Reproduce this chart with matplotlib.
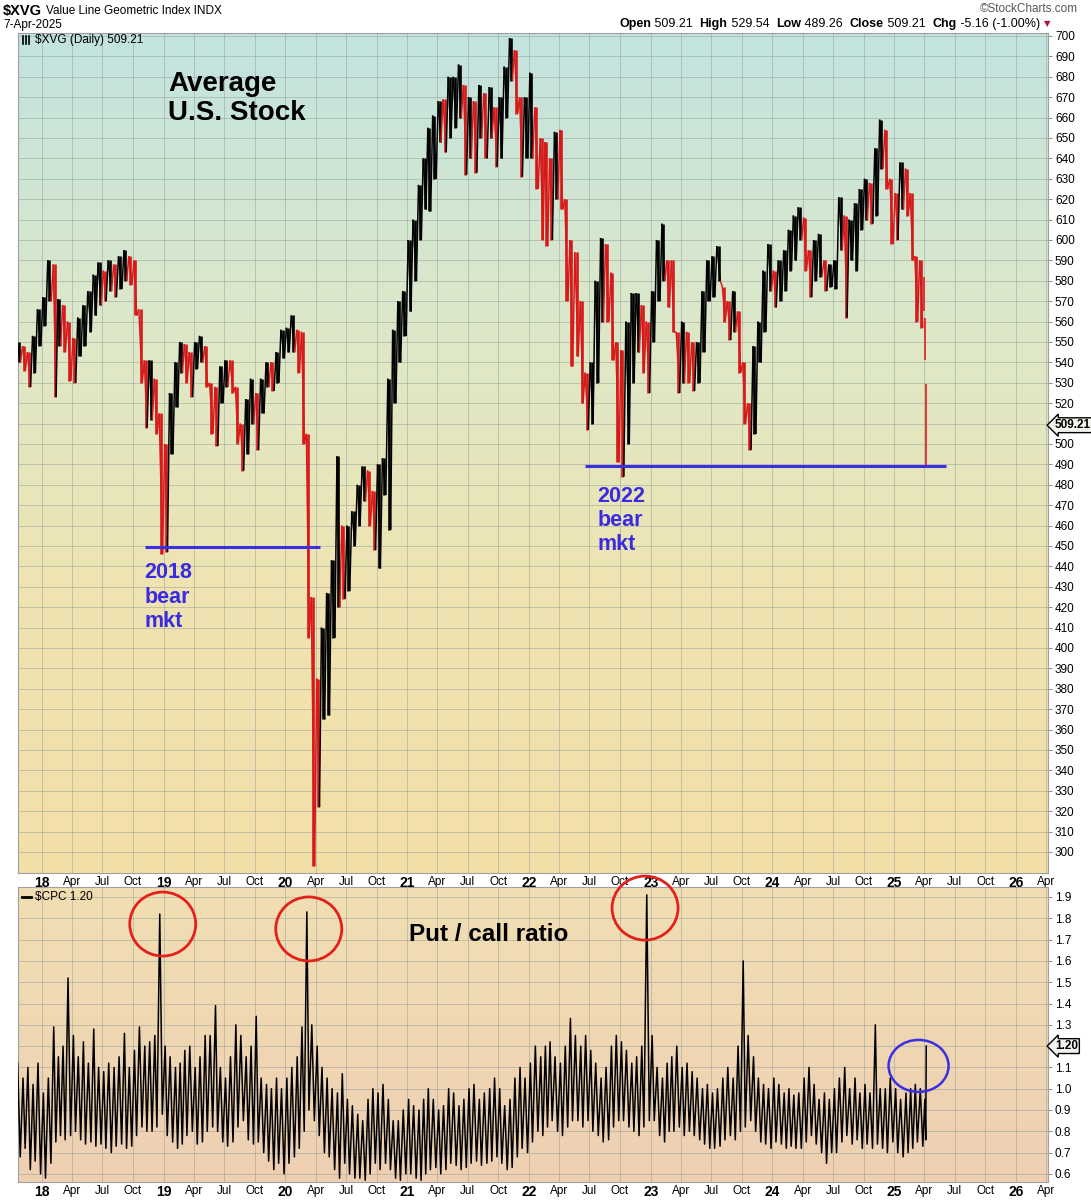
import numpy as np
import pandas as pd
import matplotlib
matplotlib.use('Agg')
import matplotlib.pyplot as plt
from matplotlib.patches import Ellipse
from matplotlib.lines import Line2D
from matplotlib.collections import LineCollection
from matplotlib.transforms import IdentityTransform
from matplotlib.colors import LinearSegmentedColormap

W, H = 1091, 1200

# ---------------- data ----------------
# $XVG semi-monthly high / low (periods start on the 1st and 15th), from 15-Oct-2017
xvg_high = [
    550, 548, 545, 553, 566,
    572, 590, 588, 571, 568, 560, 552, 562, 568, 575, 583, 589, 585, 590, 588, 592, 595, 592, 590, 566, 541, 541, 532, 515,
    500, 525, 540, 550, 549, 545, 550, 553, 548, 530, 528, 538, 541, 541, 528, 510, 522, 532, 525, 532, 540, 540, 545, 556,
    557, 563, 556, 555, 505, 425, 385, 410, 427, 443, 494, 460, 460, 467, 480, 489, 487, 477, 490, 493, 532, 556, 570, 575,
    600, 610, 627, 640, 655, 661, 668, 669, 680, 680, 686, 676, 670, 668, 676, 672, 675, 665, 670, 685, 699, 693, 670, 670,
    682, 665, 650, 648, 640, 653, 654, 620, 600, 594, 570, 535, 540, 580, 601, 598, 584, 550, 546, 560, 574, 574, 568, 560,
    575, 600, 608, 590, 590, 555, 560, 555, 550, 550, 575, 590, 592, 597, 577, 570, 575, 565, 540, 520, 548, 560, 585, 598,
    585, 590, 595, 605, 612, 616, 611, 595, 600, 603, 590, 588, 590, 621, 612, 610, 618, 625, 630, 628, 645, 659, 654, 630,
    623, 638, 635, 623, 592, 590,
]
xvg_low = [
    540, 536, 528, 535, 548,
    558, 570, 523, 548, 545, 531, 530, 543, 548, 555, 563, 568, 570, 575, 572, 576, 580, 578, 563, 530, 508, 512, 505, 446,
    447, 495, 518, 535, 530, 523, 537, 540, 528, 505, 499, 520, 528, 525, 500, 487, 495, 510, 497, 515, 528, 526, 530, 542,
    545, 545, 535, 500, 405, 293, 322, 365, 367, 405, 420, 424, 428, 450, 460, 472, 460, 448, 439, 475, 458, 520, 540, 553,
    565, 580, 600, 615, 614, 630, 648, 643, 650, 655, 660, 632, 640, 633, 650, 640, 650, 636, 640, 660, 678, 662, 631, 640,
    640, 625, 600, 597, 600, 620, 615, 570, 538, 543, 520, 507, 510, 530, 560, 560, 541, 491, 484, 500, 530, 545, 535, 525,
    550, 570, 580, 567, 555, 525, 530, 530, 526, 530, 545, 570, 572, 580, 560, 551, 555, 535, 510, 497, 505, 540, 555, 575,
    567, 570, 575, 585, 590, 600, 585, 572, 580, 582, 575, 577, 576, 595, 562, 590, 585, 605, 610, 608, 612, 635, 625, 598,
    600, 615, 612, 590, 560, 557,
]
xvg_period_start = '2017-10-15'
xvg_period_end = '2025-03-31'
# final daily bars (April 2025)
xvg_last_dates = ['2025-04-01', '2025-04-03', '2025-04-07']
xvg_last_high = [582, 562, 529.54]
xvg_last_low = [565, 541, 489.26]
xvg_close = 509.21

# $CPC put/call ratio, semi-monthly high / low, from 15-Oct-2017
pc_high = [
    1.12, 1.05, 1.10, 1.02, 1.12,
    0.98, 1.05, 1.29, 1.15, 1.20, 1.52, 1.25, 1.15, 1.22, 1.12, 1.28, 1.10, 1.08, 1.12, 1.10, 1.15, 1.26, 1.10, 1.18, 1.29, 1.20, 1.22, 1.25, 1.82,
    1.20, 1.15, 1.10, 1.12, 1.18, 1.20, 1.10, 1.15, 1.25, 1.25, 1.39, 1.10, 1.05, 1.15, 1.30, 1.25, 1.15, 1.20, 1.34, 1.05, 1.02, 1.00, 1.05, 1.00,
    1.05, 1.10, 1.15, 1.29, 1.83, 1.30, 1.20, 1.10, 1.05, 1.00, 0.98, 1.07, 0.95, 0.92, 0.88, 0.85, 0.95, 1.00, 0.98, 1.02, 0.95, 0.85, 0.85, 0.90,
    0.95, 0.92, 0.90, 0.95, 1.00, 0.95, 0.90, 0.92, 1.00, 0.98, 0.92, 0.95, 1.00, 1.02, 0.95, 0.98, 1.00, 1.05, 1.00, 0.92, 0.95, 1.05, 1.10, 1.05,
    1.12, 1.20, 1.15, 1.20, 1.22, 1.15, 1.12, 1.20, 1.33, 1.25, 1.20, 1.25, 1.18, 1.12, 1.05, 1.10, 1.20, 1.25, 1.22, 1.18, 1.12, 1.15, 1.20, 1.91,
    1.25, 1.10, 1.05, 1.12, 1.15, 1.20, 1.10, 1.12, 1.08, 1.05, 1.00, 1.02, 0.98, 1.00, 1.05, 1.10, 1.05, 1.20, 1.60, 1.25, 1.15, 1.05, 1.02, 1.00,
    1.05, 1.02, 0.98, 1.00, 0.97, 0.98, 1.05, 1.10, 1.02, 0.95, 0.98, 0.95, 1.00, 1.05, 1.10, 1.00, 1.05, 0.98, 1.02, 0.98, 1.30, 1.00, 1.00, 1.05,
    1.00, 0.95, 0.98, 1.00, 1.02, 1.00, 0.95,
]
pc_low = [
    0.68, 0.72, 0.62, 0.66, 0.60,
    0.58, 0.65, 0.75, 0.78, 0.76, 0.78, 0.80, 0.76, 0.74, 0.75, 0.73, 0.74, 0.72, 0.70, 0.73, 0.74, 0.72, 0.73, 0.78, 0.82, 0.80, 0.80, 0.82, 0.88,
    0.78, 0.75, 0.72, 0.74, 0.78, 0.80, 0.74, 0.75, 0.80, 0.82, 0.80, 0.75, 0.73, 0.75, 0.82, 0.85, 0.76, 0.74, 0.75, 0.70, 0.66, 0.62, 0.65, 0.60,
    0.65, 0.68, 0.72, 0.80, 0.90, 0.85, 0.78, 0.70, 0.68, 0.62, 0.58, 0.65, 0.60, 0.58, 0.58, 0.57, 0.60, 0.65, 0.62, 0.65, 0.62, 0.58, 0.57, 0.60,
    0.60, 0.58, 0.57, 0.60, 0.62, 0.63, 0.60, 0.62, 0.65, 0.64, 0.62, 0.63, 0.65, 0.66, 0.64, 0.65, 0.66, 0.68, 0.65, 0.62, 0.63, 0.68, 0.72, 0.70,
    0.75, 0.80, 0.78, 0.82, 0.85, 0.80, 0.78, 0.82, 0.85, 0.85, 0.82, 0.85, 0.80, 0.78, 0.75, 0.76, 0.82, 0.85, 0.85, 0.82, 0.80, 0.78, 0.82, 0.85,
    0.85, 0.78, 0.75, 0.80, 0.80, 0.82, 0.78, 0.80, 0.78, 0.76, 0.74, 0.72, 0.72, 0.73, 0.76, 0.78, 0.76, 0.80, 0.82, 0.85, 0.80, 0.75, 0.74, 0.72,
    0.75, 0.74, 0.72, 0.73, 0.72, 0.72, 0.75, 0.78, 0.74, 0.70, 0.65, 0.70, 0.70, 0.75, 0.78, 0.74, 0.76, 0.72, 0.74, 0.72, 0.74, 0.72, 0.70, 0.75,
    0.70, 0.68, 0.70, 0.72, 0.75, 0.73, 0.76,
]
pc_period_start = '2017-10-15'
pc_last_date = '2025-04-07'
pc_last = 1.20

# annotations
support_2018 = ('2018-11-05', '2020-04-14', 449.5)
support_2022 = ('2022-06-17', '2025-06-05', 489.4)
red_circles = [('2018-12-29', 1.773), ('2020-03-11', 1.750), ('2022-12-15', 1.848)]
blue_circle = ('2025-03-15', 1.107)

# ---------------- helpers ----------------
def yfrac(d):
    d = pd.Timestamp(d)
    start = pd.Timestamp(d.year, 1, 1)
    days = 366 if d.is_leap_year else 365
    return d.year + (d - start).days / days

XMIN, XMAX = 2017.803, 2026.263
P_TOP, P_BOT = 700 + 3 / 2.04, 700 - 837 / 2.04
PC_TOP, PC_BOT = 1.9 + 10 / 213.0, 1.9 - 285 / 213.0

plt.rcParams['font.family'] = ['Liberation Sans Narrow', 'Liberation Sans', 'DejaVu Sans']
BOLDFAM = ['Liberation Sans', 'DejaVu Sans']

fig = plt.figure(figsize=(W / 100, H / 100), dpi=100)
fig.patch.set_facecolor('white')

def fx(px):
    return px / W

def fy(py):
    return 1 - py / H

ax1 = fig.add_axes([fx(18), fy(873), fx(1048) - fx(18), fy(33) - fy(873)])
ax2 = fig.add_axes([fx(18), fy(1182), fx(1048) - fx(18), fy(887) - fy(1182)])

# gradients
grad = np.linspace(0, 1, 256).reshape(-1, 1)
top_cmap = LinearSegmentedColormap.from_list(
    'top', [(0, '#f3dfa8'), (0.35, '#eee4b2'), (0.65, '#dde8c9'), (1, '#c2e3df')])
bot_cmap = LinearSegmentedColormap.from_list('bot', [(0, '#eecfb3'), (1, '#f1dfb2')])
ax1.imshow(grad, cmap=top_cmap, extent=[0, 1, 0, 1], transform=ax1.transAxes,
           aspect='auto', origin='lower', zorder=0)
ax2.imshow(grad, cmap=bot_cmap, extent=[0, 1, 0, 1], transform=ax2.transAxes,
           aspect='auto', origin='lower', zorder=0)

# ---------------- price bars ----------------
RED = '#d61a1a'
hi = np.array(xvg_high, float)
lo = np.array(xvg_low, float)
starts = pd.date_range(xvg_period_start, periods=len(hi), freq='SMS')
t_edges = np.array([yfrac(s) for s in starts] + [yfrac(xvg_period_end)])
dt = np.diff(t_edges)
tc = (t_edges[:-1] + t_edges[1:]) / 2
mid = (hi + lo) / 2
cols = ['black'] + [RED if mid[i] < mid[i - 1] else 'black' for i in range(1, len(mid))]
# range bars
ax1.vlines(tc, lo, hi, colors=cols, lw=1.9, zorder=3)
# jagged connection high -> low -> next high, giving the dense bar texture
segs, scol = [], []
for i in range(len(hi)):
    a = (t_edges[i] + 0.2 * dt[i], hi[i])
    b = (t_edges[i] + 0.8 * dt[i], lo[i])
    segs.append([a, b]); scol.append(cols[i])
    if i + 1 < len(hi):
        c = (t_edges[i + 1] + 0.2 * dt[i + 1], hi[i + 1])
        segs.append([b, c]); scol.append(cols[i + 1])
ax1.add_collection(LineCollection(segs, colors=scol, linewidths=1.1, zorder=3))
lt = [yfrac(d) for d in xvg_last_dates]
ax1.vlines(lt, xvg_last_low, xvg_last_high, colors='#e02a2a', lw=1.3, zorder=3)

# support lines
for s0, s1, lev in (support_2018, support_2022):
    ax1.hlines(lev, yfrac(s0), yfrac(s1), color='#3b2fe3', lw=2.2, zorder=4)

# ---------------- put/call ----------------
ph = np.array(pc_high, float)
pl = np.array(pc_low, float)
pstarts = pd.date_range(pc_period_start, periods=len(ph), freq='SMS')
pe = np.array([yfrac(s) for s in pstarts] + [yfrac(pc_last_date)])
xs, ys = [], []
for i in range(len(ph)):
    d = pe[i + 1] - pe[i]
    xs += [pe[i] + 0.3 * d, pe[i] + 0.75 * d]
    ys += [ph[i], pl[i]]
xs.append(yfrac(pc_last_date))
ys.append(pc_last)
ax2.plot(xs, ys, color='black', lw=1.1, zorder=3)

# circles
for d, v in red_circles:
    ax2.add_patch(Ellipse((yfrac(d), v), 66 / 121.75, 64 / 213.0, fill=False,
                          ec='#e3201b', lw=2.0, clip_on=False, zorder=6))
ax2.add_patch(Ellipse((yfrac(blue_circle[0]), blue_circle[1]), 60 / 121.75, 52 / 213.0,
                      fill=False, ec='#3b2fe3', lw=1.8, clip_on=False, zorder=6))

# ---------------- axes styling ----------------
qt, ql = [], []
for yr in range(2018, 2027):
    for m, name in [(1, str(yr)[2:]), (4, 'Apr'), (7, 'Jul'), (10, 'Oct')]:
        t = yfrac(pd.Timestamp(yr, m, 1))
        if XMIN <= t <= XMAX:
            qt.append(t)
            ql.append(name)

for ax, ylo, yhi in ((ax1, P_BOT, P_TOP), (ax2, PC_BOT, PC_TOP)):
    ax.set_xlim(XMIN, XMAX)
    ax.set_ylim(ylo, yhi)
    ax.set_xticks(qt)
    ax.set_xticklabels(ql)
    ax.tick_params(axis='x', length=0, pad=2, labelsize=8.5)
    for lbl in ax.get_xticklabels():
        if lbl.get_text().isdigit():
            lbl.set_fontweight('bold')
            lbl.set_fontsize(10)
    ax.yaxis.tick_right()
    ax.tick_params(axis='y', length=3, width=0.6, color='#777777', pad=2, labelsize=8.5)
    ax.grid(True, color='#8f9a94', lw=0.6, alpha=0.55)
    for sp in ax.spines.values():
        sp.set_color('#a0a0a0')
        sp.set_linewidth(0.8)

p_ticks = list(range(300, 701, 10))
ax1.set_yticks(p_ticks)
# the 510 label sits under the last-value box
ax1.set_yticklabels(['' if v == 510 else str(v) for v in p_ticks])
pc_ticks = np.round(np.arange(0.6, 1.91, 0.1), 1)
ax2.set_yticks(pc_ticks)
ax2.set_yticklabels(['' if abs(v - 1.2) < 1e-6 else '%.1f' % v for v in pc_ticks])

# value boxes on right axis
for ax, val in ((ax1, xvg_close), (ax2, pc_last)):
    ax.annotate('%.2f' % val, xy=(1.0, val), xycoords=('axes fraction', 'data'),
                xytext=(5, 0), textcoords='offset points', ha='left', va='center',
                fontsize=8.5, fontweight='bold', annotation_clip=False, zorder=10,
                bbox=dict(boxstyle='larrow,pad=0.12', fc='#f3f3ee', ec='black', lw=1))

# ---------------- annotation text ----------------
ax1.text(yfrac('2019-01-14'), 683, 'Average\nU.S. Stock', fontsize=20, fontweight='bold',
         family=BOLDFAM, va='top', ha='left', linespacing=1.15, zorder=5)
ax1.text(yfrac('2018-11-05'), 442, '2018\nbear\nmkt', fontsize=15.5, fontweight='bold',
         family=BOLDFAM, color='#3b2be0', va='top', ha='left', linespacing=1.2, zorder=5)
ax1.text(yfrac('2022-07-26'), 479.5, '2022\nbear\nmkt', fontsize=15.5, fontweight='bold',
         family=BOLDFAM, color='#3b2be0', va='top', ha='left', linespacing=1.2, zorder=5)
ax2.text(yfrac('2021-01-05'), 1.726, 'Put / call ratio', fontsize=17.5, fontweight='bold',
         family=BOLDFAM, va='center', ha='left', zorder=5)

# in-panel legends
ax1.text(17 / (1048 - 18), 1 - 7 / 840, '$XVG (Daily) 509.21',
         transform=ax1.transAxes, fontsize=8.5, va='center', ha='left', zorder=7)
ax2.text(17 / (1048 - 18), 1 - 10 / 295, '$CPC 1.20', transform=ax2.transAxes,
         fontsize=8.5, va='center', ha='left', zorder=7)

def pix_line(x0, y0, x1, y1, **kw):
    fig.add_artist(Line2D([x0, x1], [H - y0, H - y1], transform=IdentityTransform(), **kw))

for xx in (23, 26, 29):
    pix_line(xx, 36, xx, 44, color='black', lw=1.2)
pix_line(22, 897, 31, 897, color='black', lw=2.0)

# ---------------- header ----------------
def ptext(x, y, s, **kw):
    return fig.text(x, H - y, s, transform=IdentityTransform(), **kw)

ptext(3, 11, '$XVG', fontsize=10.5, fontweight='bold', va='center')
ptext(46, 11, 'Value Line Geometric Index INDX', fontsize=8.5, va='center')
ptext(3, 25, '7-Apr-2025', fontsize=8.5, va='center')
ptext(1078, 9, '©StockCharts.com', fontsize=8.5, va='center', ha='right', color='#555555')

renderer = fig.canvas.get_renderer()
pieces = [('Open', 'bold', 'black'), (' 509.21  ', 'normal', 'black'),
          ('High', 'bold', 'black'), (' 529.54  ', 'normal', 'black'),
          ('Low', 'bold', 'black'), (' 489.26  ', 'normal', 'black'),
          ('Close', 'bold', 'black'), (' 509.21  ', 'normal', 'black'),
          ('Chg', 'bold', 'black'), (' -5.16 (-1.00%) ', 'normal', 'black'),
          ('▼', 'normal', '#b0103a')]
objs, widths = [], []
for s, w, c in pieces:
    kw = dict(fontsize=9 if s != '▼' else 6, fontweight=w, color=c, va='center', ha='left')
    if s == '▼':
        kw['family'] = ['DejaVu Sans']
    t = ptext(0, 24, s, **kw)
    widths.append(t.get_window_extent(renderer=renderer).width)
    objs.append(t)
xcur = 1050 - sum(widths)
for t, wd in zip(objs, widths):
    t.set_position((xcur, H - 24))
    xcur += wd

fig.savefig('out.png', dpi=100, facecolor='white')
